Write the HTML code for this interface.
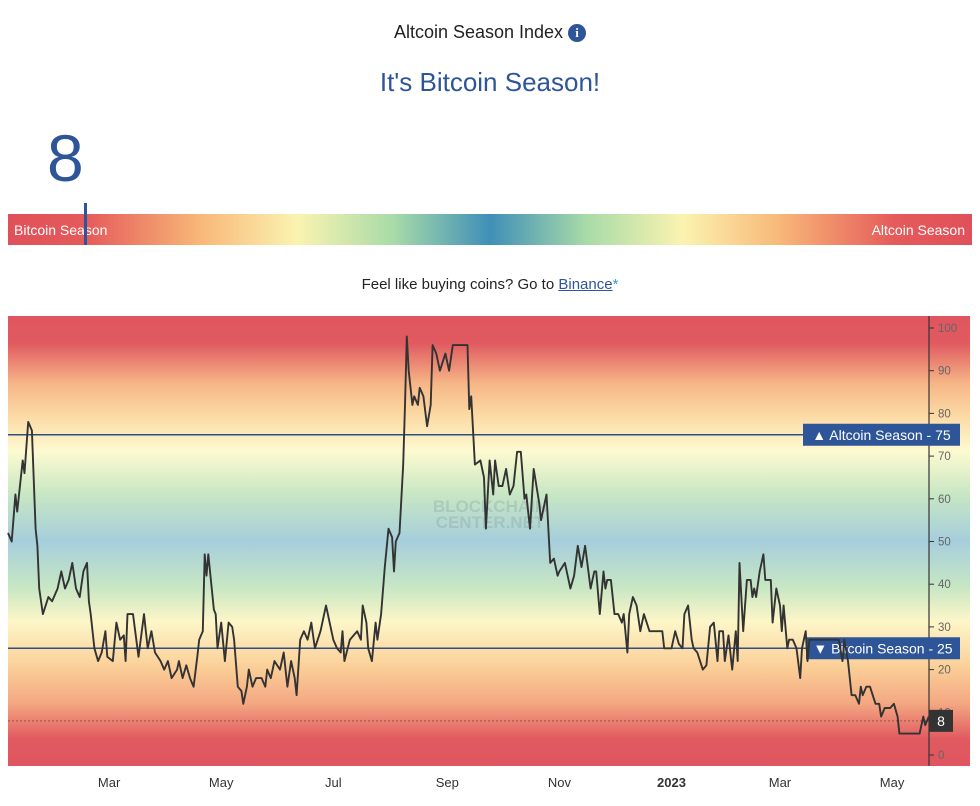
<!DOCTYPE html>
<html><head><meta charset="utf-8"><style>
body{margin:0;width:980px;height:806px;background:#fff;font-family:"Liberation Sans",sans-serif;position:relative;overflow:hidden}
.abs{position:absolute}
</style></head><body>
<div class="abs" style="left:0;width:980px;top:22px;text-align:center;font-size:18px;color:#222">Altcoin Season Index <span style="display:inline-block;width:18px;height:18px;border-radius:50%;background:#2e5597;color:#fff;font-size:13px;line-height:18px;font-weight:bold;font-family:'Liberation Serif',serif;vertical-align:1px">i</span></div>
<div class="abs" style="left:0;width:980px;top:67px;text-align:center;font-size:26px;color:#2e5597">It's Bitcoin Season!</div>
<div class="abs" style="left:47px;top:120px;font-size:66px;color:#2e5597">8</div>
<div class="abs" style="left:8px;top:214px;width:964px;height:31px;background:linear-gradient(to right,#e0505a 0%,#e55a5a 8%,#f8b878 20%,#fbf3b0 30%,#a8dba8 40%,#3f8fb8 50%,#a8dba8 60%,#fbf3b0 70%,#f8b878 80%,#e55a5a 92%,#e0505a 100%)"></div>
<div class="abs" style="left:14px;top:222px;font-size:14px;color:#fff">Bitcoin Season</div>
<div class="abs" style="right:15px;top:222px;font-size:14px;color:#fff">Altcoin Season</div>
<div class="abs" style="left:84px;top:203px;width:3px;height:42px;background:#2e5597"></div>
<div class="abs" style="left:0;width:980px;top:276px;text-align:center;font-size:15px;color:#222">Feel like buying coins? Go to <a style="color:#2e5597;text-decoration:underline">Binance</a><span style="color:#3a9ad9">*</span></div>
<svg class="abs" style="left:0;top:0" width="980" height="806">
<defs><linearGradient id="bg" x1="0" y1="0" x2="0" y2="1">
<stop offset="0" stop-color="#e05560"/><stop offset="0.06" stop-color="#e05a60"/><stop offset="0.15" stop-color="#f6b687"/><stop offset="0.22" stop-color="#fcd9a4"/><stop offset="0.3" stop-color="#fdfad0"/><stop offset="0.4" stop-color="#c6e6c4"/><stop offset="0.5" stop-color="#a6cedc"/><stop offset="0.6" stop-color="#c6e6c4"/><stop offset="0.68" stop-color="#fdf6c8"/><stop offset="0.78" stop-color="#fbcf98"/><stop offset="0.86" stop-color="#f4a882"/><stop offset="0.94" stop-color="#e05a60"/><stop offset="1" stop-color="#e05560"/></linearGradient></defs>
<rect x="8" y="316" width="962" height="450" fill="url(#bg)"/>
<text x="490" y="512" text-anchor="middle" font-size="17" font-weight="bold" fill="#7a8a8a" opacity="0.25">BLOCKCHAIN</text>
<text x="490" y="528" text-anchor="middle" font-size="17" font-weight="bold" fill="#7a8a8a" opacity="0.25">CENTER.NET</text>
<g id="grid"></g><g id="xax"></g><g id="yax"></g>
<g id="labels"></g>
<path id="line" fill="none" stroke="#333" stroke-width="1.9" stroke-linejoin="round"/>
<g id="labels2"></g>
</svg>
<script>
const days=[0,2,4,5,8,9,11,13,15,16,17,19,22,24,27,29,31,33,35,37,39,41,43,44,45,47,49,51,53,54,57,59,61,63,64,65,68,71,74,76,78,80,83,85,87,89,92,93,95,97,99,101,103,104,106,107,108,109,112,113,114,116,118,120,122,123,125,127,128,130,131,133,135,138,140,141,143,145,148,150,152,154,156,157,159,161,163,165,167,170,
173,177,179,181,182,183,186,190,192,193,195,196,198,200,201,203,205,207,209,210,211,213,215,216,217,218,220,221,223,224,226,228,230,231,233,235,238,240,242,244,250,251,252,254,257,259,260,262,264,265,267,269,271,273,275,277,279,281,282,284,286,289,290,293,295,297,299,300,303,306,308,310,312,314,317,319,320,322,324,325,326,328,330,332,334,335,337,338,340,342,
344,346,349,356,357,361,363,365,367,368,370,372,373,375,378,380,382,384,386,387,389,390,392,394,396,397,398,400,402,404,405,406,407,409,411,412,415,416,418,420,421,422,424,425,427,429,431,432,434,435,436,440,447,452,454,455,457,459,461,463,464,465,467,469,472,474,475,477,480,482,484,485,496,498,499,501];
const values=[52,50,61,57,69,66,78,76,53,49,39,33,37,36,39,43,39,41,45,39,37,43,45,36,33,25,22,24,29,23,22,31,27,28,22,33,33,23,33,25,29,24,22,20,22,18,20,22,18,21,18,16,23,27,29,47,42,47,34,33,25,31,22,31,30,27,16,15,12,16,20,16,18,18,16,20,18,22,20,24,16,22,18,14,27,29,27,31,25,29,
35,27,25,24,29,22,27,29,27,35,31,25,22,31,27,33,44,53,51,43,50,52,68,82,98,90,82,84,82,86,84,77,82,96,94,90,94,90,96,96,96,81,84,68,69,65,53,69,61,69,63,63,67,61,63,71,71,60,61,53,67,59,55,61,45,46,42,43,45,39,42,49,44,49,39,43,43,33,43,39,41,41,33,33,31,33,24,33,37,35,
29,33,29,29,25,25,29,26,25,33,35,27,25,24,20,21,30,31,22,29,29,22,28,20,29,22,45,29,41,41,37,39,37,43,47,41,41,31,39,35,29,35,25,27,27,25,18,25,29,22,27,27,27,27,22,27,22,14,14,12,16,14,16,16,12,12,9,11,11,12,9,5,5,9,7,9];
const xTickLabels=["Mar","May","Jul","Sep","Nov","2023","Mar","May"];
const xTickDays=[55,116,177,239,300,361,420,481];
const yTickValues=[0,10,20,30,40,50,60,70,80,90,100];
const currentValue=8, altThreshold=75, btcThreshold=25;
const NS="http://www.w3.org/2000/svg";
function X(d){return 8+d*1.838;}
function Y(v){return 755-v*4.27;}
function mk(tag,attrs,parent,txt){const e=document.createElementNS(NS,tag);for(const k in attrs)e.setAttribute(k,attrs[k]);if(txt!==undefined)e.textContent=txt;document.getElementById(parent).appendChild(e);return e;}
let d="";for(let i=0;i<days.length;i++){d+=(i?"L":"M")+X(days[i]).toFixed(1)+","+Y(values[i]).toFixed(1);}
document.getElementById("line").setAttribute("d",d);
const ax=mk("line",{x1:929,y1:316,x2:929,y2:766,stroke:"#333","stroke-width":1.2},"yax");


yTickValues.forEach(v=>{
 const t=mk("line",{x1:929,x2:934,y1:Y(v),y2:Y(v),stroke:"#333"},"yax");
 
 
 const l=mk("text",{x:938,y:Y(v)+4,"font-size":11.5,fill:"#666"},"yax",String(v));
 
 
});
xTickLabels.forEach((s,i)=>{
 const l=mk("text",{x:X(xTickDays[i]),y:787,"font-size":13,fill:"#333","text-anchor":"middle","font-weight":s==="2023"?"bold":"normal"},"xax",s);
 
 
});
[[altThreshold,"alt"],[btcThreshold,"btc"]].forEach(([v,n])=>{
 const g=mk("line",{x1:8,x2:929,y1:Y(v),y2:Y(v),stroke:"#2e4f80","stroke-width":1.5},"grid");
 
 
});
const cl=mk("line",{x1:8,x2:929,y1:Y(currentValue),y2:Y(currentValue),stroke:"#9a5050","stroke-width":1,"stroke-dasharray":"2,2"},"grid");


function badge(x,v,w,txt,bg,name,parent){
 const r=mk("rect",{x:x,y:Y(v)-11,width:w,height:22,fill:bg},parent);
 
 
 const t=mk("text",{x:x+w/2,y:Y(v)+5,"font-size":14,fill:"#fff","text-anchor":"middle"},parent,txt);
 
 
}
badge(803,altThreshold,157,"▲ Altcoin Season - "+altThreshold,"#2e5597","altcoin-season-badge","labels");
badge(806,btcThreshold,154,"▼ Bitcoin Season - "+btcThreshold,"#2e5597","bitcoin-season-badge","labels");
badge(929,currentValue,24,String(currentValue),"#333","current-value-badge","labels2");
</script>
</body></html>
